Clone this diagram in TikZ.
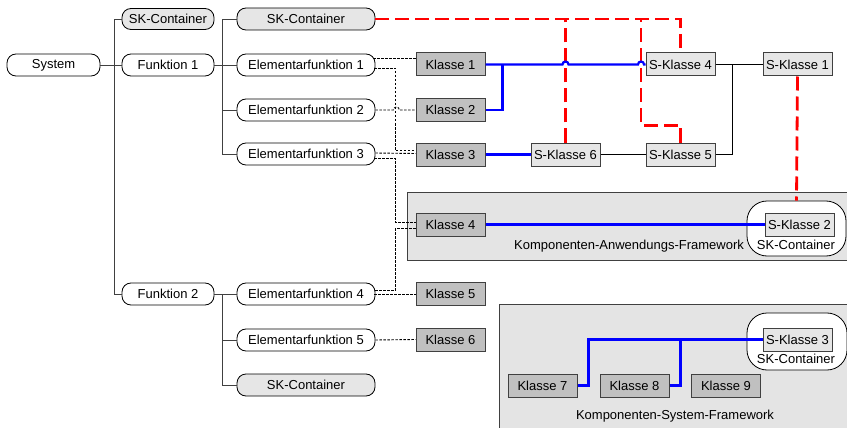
\documentclass[tikz,border=0pt]{standalone}
\usepackage{fontspec}
\setmainfont{Liberation Sans}
\usetikzlibrary{calc}
\definecolor{linegray}{HTML}{404040}
\definecolor{klassfill}{HTML}{C0C0C0}
\definecolor{lightfill}{HTML}{E6E6E6}
\definecolor{fwfill}{HTML}{E4E4E4}
\tikzset{
  txt/.style={font=\fontsize{13}{15}\selectfont, inner sep=0pt},
  oval/.style={txt, draw=black, line width=0.8pt, rounded corners=9pt, fill=white, minimum height=22pt},
  ovalgray/.style={oval, fill=lightfill},
  klasse/.style={txt, draw=linegray, line width=1pt, fill=klassfill, minimum width=69pt, minimum height=23pt},
  sklasse/.style={txt, draw=linegray, line width=1pt, fill=lightfill, minimum width=69pt, minimum height=23pt},
  container/.style={draw=black, line width=0.8pt, fill=white, rounded corners=20pt},
  framework/.style={draw=linegray, line width=1pt, fill=fwfill, inner sep=0pt, anchor=north west},
  tree/.style={draw=linegray, line width=0.9pt},
  mapline/.style={draw=black, line width=0.9pt, dash pattern=on 2.5pt off 1.5pt},
  bluelink/.style={draw=blue, line width=2.2pt},
  blacklink/.style={draw=black, line width=0.9pt},
  redlink/.style={draw=red, line width=2.8pt, dash pattern=on 14pt off 6pt},
}
\begin{document}
\begin{tikzpicture}[x=1pt, y=-1pt]
\useasboundingbox (0,0) rectangle (847,428);

% framework areas
\node[framework, minimum width=445pt, minimum height=68pt] (fwa) at (407,192) {};
\node[framework, minimum width=352pt, minimum height=130pt] (fws) at (499,304) {};
\node[txt] (fwalabel) at (629,246) {Komponenten-Anwendungs-Framework};
\node[txt] (fwslabel) at (675,416) {Komponenten-System-Framework};

% containers holding S-Klasse 2 and 3
\node[container, minimum width=99pt, minimum height=55pt] (c2) at (796.5,228.5) {};
\node[container, minimum width=100pt, minimum height=57pt] (c3) at (797,341.5) {};
\node[txt] (c2label) at (796,245) {SK-Container};
\node[txt] (c3label) at (796,359) {SK-Container};

% function tree
\node[oval, minimum width=93pt] (sys) at (53.5,65) {System};
\node[ovalgray, minimum width=92pt, minimum height=21pt] (sk0) at (168,19) {SK-Container};
\node[oval, minimum width=92pt] (f1) at (168,65) {Funktion 1};
\node[oval, minimum width=92pt] (f2) at (168,294) {Funktion 2};
\node[ovalgray, minimum width=138pt] (sk1) at (306,19) {SK-Container};
\node[oval, minimum width=138pt] (ef1) at (306,65) {Elementarfunktion 1};
\node[oval, minimum width=138pt] (ef2) at (306,110) {Elementarfunktion 2};
\node[oval, minimum width=138pt] (ef3) at (306,154) {Elementarfunktion 3};
\node[oval, minimum width=138pt] (ef4) at (306,294) {Elementarfunktion 4};
\node[oval, minimum width=138pt] (ef5) at (306,340) {Elementarfunktion 5};
\node[ovalgray, minimum width=138pt] (skb) at (306,385) {SK-Container};

% classes
\node[klasse] (k1) at (450.5,64.5) {Klasse 1};
\node[klasse] (k2) at (450.5,110) {Klasse 2};
\node[klasse] (k3) at (450.5,154.5) {Klasse 3};
\node[klasse] (k4) at (450.5,224.5) {Klasse 4};
\node[klasse] (k5) at (450.5,294) {Klasse 5};
\node[klasse] (k6) at (450.5,339.5) {Klasse 6};
\node[klasse] (k7) at (542.5,385.5) {Klasse 7};
\node[klasse] (k8) at (634.5,385.5) {Klasse 8};
\node[klasse] (k9) at (726,385.5) {Klasse 9};

\node[sklasse] (s4) at (680.5,64.5) {S-Klasse 4};
\node[sklasse] (s1) at (797.5,64.5) {S-Klasse 1};
\node[sklasse] (s6) at (565.5,154.5) {S-Klasse 6};
\node[sklasse] (s5) at (680.5,154.5) {S-Klasse 5};
\node[sklasse] (s2) at (799.5,224.5) {S-Klasse 2};
\node[sklasse] (s3) at (797.5,339.5) {S-Klasse 3};

% tree connectors
\draw[tree] (sys) -- (f1);
\draw[tree] (sk0.west) -- ++(-7,0) |- (f2.west);
\draw[tree] (f1) -- (ef1);
\draw[tree] (sk1.west) -- ++(-14,0) |- (ef3.west);
\draw[tree] (ef2.west) -- ++(-14,0);
\draw[tree] (f2) -- (ef4);
\draw[tree] ([xshift=-14pt]ef4.west) |- (skb.west);
\draw[tree] (ef5.west) -- ++(-14,0);

% assignment of elementary functions to classes
\draw[mapline] ([xshift=-2pt,yshift=7pt]ef1.east) -- ([yshift=6.5pt]k1.west);
\draw[mapline] ([xshift=-1pt,yshift=-3pt]ef1.east) -- ++(21,0) |- ([yshift=4pt]k3.west);
\draw[mapline] (ef2.east) -- ++(18,0) arc[start angle=180, end angle=0, radius=3pt] -- (k2.west);
\draw[mapline] ([yshift=1pt]ef3.east) -- ([yshift=1pt]k3.west);
\draw[mapline] ([xshift=-1pt,yshift=-4pt]ef3.east) -- ++(21,0) |- ([yshift=2.5pt]k4.west);
\draw[mapline] ([yshift=-3.5pt]k4.west) -- ++(-20,0) |- ([xshift=-1pt,yshift=4pt]ef4.east);
\draw[mapline] ([xshift=-1pt]ef4.east) -- (k5.west);
\draw[mapline] (ef5.east) -- (k6.west);

% red dependencies between containers and S-classes
\coordinate (rturn) at (641,19);
\draw[redlink] (sk1.east) -| (s4.north);
\draw[redlink] (s6.north) -- (s6.north |- sk1.east);
\draw[redlink] (s5.north) -- ++(0,-17) -| (rturn);
\draw[redlink] (s1.south) -- (c2.north);

% class relations
\coordinate (hopa) at (s6.north |- k1.east);
\coordinate (hopb) at (rturn |- k1.east);
\draw[bluelink] (k1.east) -- ([xshift=-3pt]hopa) arc[start angle=180, end angle=0, radius=3pt]
  -- ([xshift=-3pt]hopb) arc[start angle=180, end angle=0, radius=3pt] -- (s4.west);
\draw[bluelink] (k2.east) -| ([xshift=17pt]k1.east);
\draw[bluelink] (k3.east) -- (s6.west);
\draw[bluelink] (k4.east) -- (s2.west);
\draw[bluelink] (k7.east) -- ++(11,0) |- (s3.west);
\draw[bluelink] (k8.east) -- ++(11,0) |- (s3.west);

\draw[blacklink] (s4.east) -- (s1.west);
\draw[blacklink] (s5.east) -| ([xshift=17pt]s4.east);
\draw[blacklink] (s6.east) -- (s5.west);
\end{tikzpicture}
\end{document}
